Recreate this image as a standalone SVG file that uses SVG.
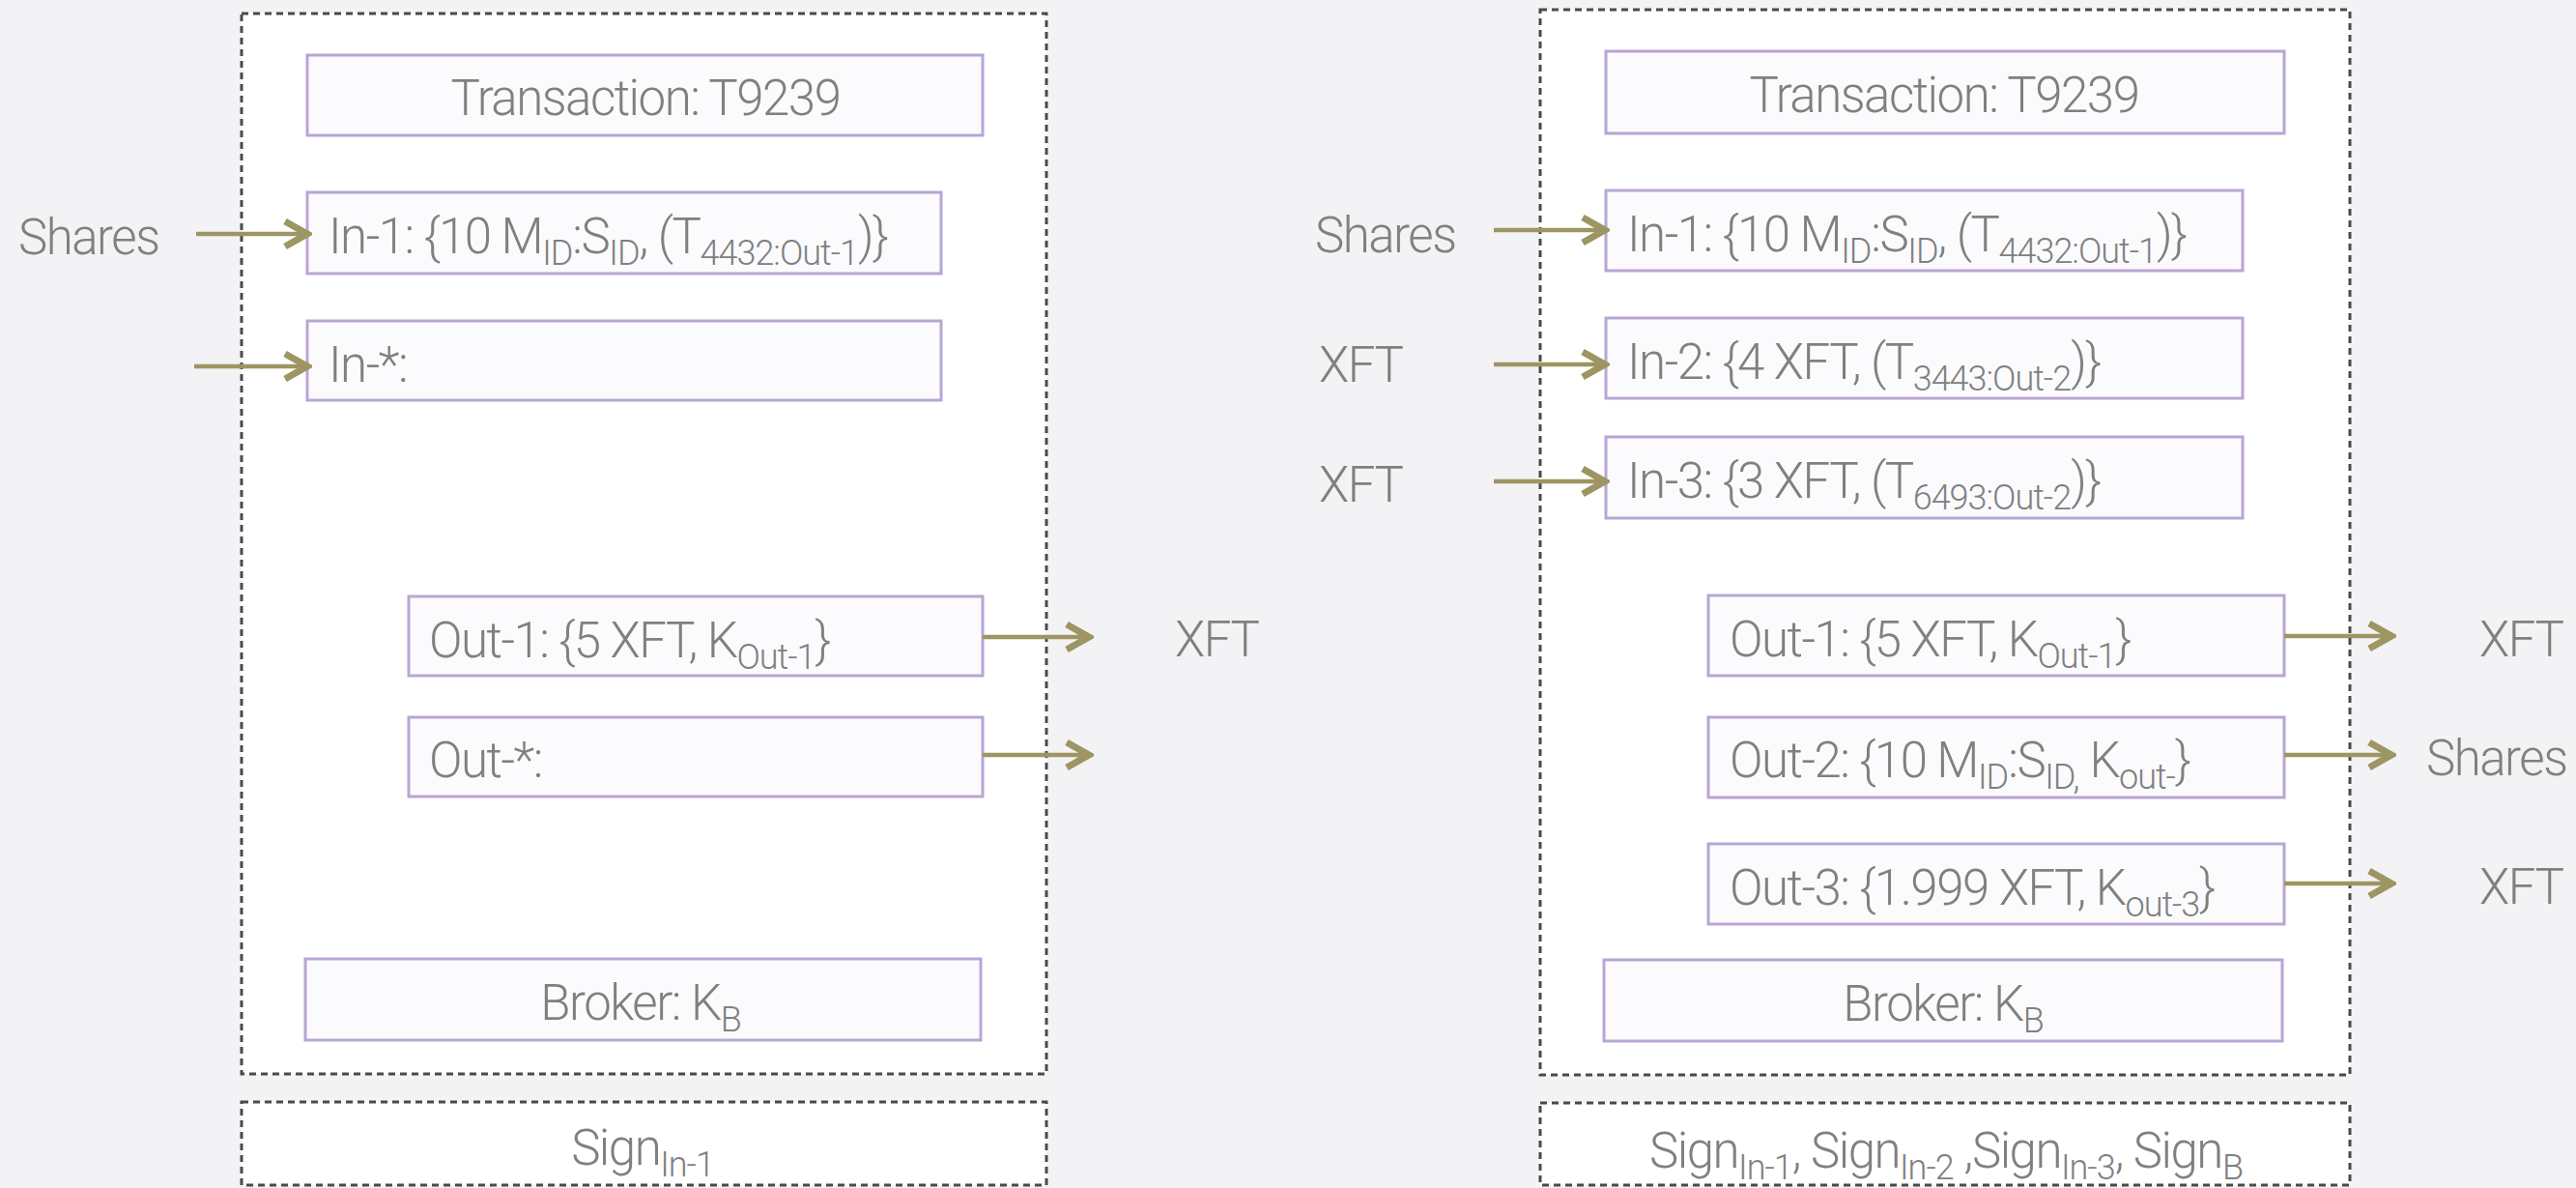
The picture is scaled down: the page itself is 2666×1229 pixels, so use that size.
<svg xmlns="http://www.w3.org/2000/svg" width="2666" height="1229" viewBox="0 0 2666 1229">
<style>
.bg{fill:#f3f2f5}
.outer{fill:#ffffff;stroke:#4a4a4a;stroke-width:3;stroke-dasharray:7 5}
.box{fill:#fbfbfd;stroke:#b8a5d6;stroke-width:3}
.t{font-family:Roboto,"Liberation Sans",sans-serif;font-weight:300;font-size:51px;fill:#808080;letter-spacing:-1.5px}
.c{text-anchor:middle}
.s{font-size:36px;letter-spacing:-1px}
.arr{stroke:#9d9562;stroke-width:4.5;fill:none;marker-end:url(#ah)}
</style>
<defs>
<marker id="ah" markerUnits="userSpaceOnUse" viewBox="0 0 34 34" markerWidth="34" markerHeight="34" refX="29" refY="17" orient="auto">
<path d="M6,4 L29,17 L6,30" fill="none" stroke="#9d9562" stroke-width="7" stroke-linejoin="miter"/>
</marker>
</defs>
<rect class="bg" x="0" y="0" width="2666" height="1229"/>

<g id="left-panel">
<rect class="outer" x="250" y="14" width="833" height="1097"/>
</g>
<g id="left-sign">
<rect class="outer" x="250" y="1140" width="833" height="86"/>
<text class="t c" x="665" y="1205">Sign<tspan class="s" dy="12">In-1</tspan></text>
</g>
<g id="left-transaction">
<rect class="box" x="318" y="57" width="699" height="83"/>
<text class="t c" x="668" y="119">Transaction: T9239</text>
</g>
<g id="left-in1">
<rect class="box" x="318" y="199" width="656" height="84"/>
<text class="t" x="340" y="262">In-1: {10 M<tspan class="s" dy="12">ID</tspan><tspan dy="-12">:S</tspan><tspan class="s" dy="12">ID</tspan><tspan dy="-12">, (T</tspan><tspan class="s" dy="12">4432:Out-1</tspan><tspan dy="-12">)}</tspan></text>
</g>
<g id="left-instar">
<rect class="box" x="318" y="332" width="656" height="82"/>
<text class="t" x="340" y="395">In-*:</text>
</g>
<g id="left-out1">
<rect class="box" x="423" y="617" width="594" height="82"/>
<text class="t" x="444" y="680">Out-1: {5 XFT, K<tspan class="s" dy="12">Out-1</tspan><tspan dy="-12">}</tspan></text>
</g>
<g id="left-outstar">
<rect class="box" x="423" y="742" width="594" height="82"/>
<text class="t" x="444" y="804">Out-*:</text>
</g>
<g id="left-broker">
<rect class="box" x="316" y="992" width="699" height="84"/>
<text class="t c" x="663" y="1055">Broker: K<tspan class="s" dy="12">B</tspan></text>
</g>
<g id="left-labels">
<text class="t" x="19" y="263">Shares</text>
<text class="t" x="1216" y="679">XFT</text>
</g>

<g id="right-panel">
<rect class="outer" x="1594" y="10" width="838" height="1102"/>
</g>
<g id="right-sign">
<rect class="outer" x="1594" y="1141" width="838" height="85"/>
<text class="t c" x="2014" y="1208">Sign<tspan class="s" dy="12">In-1</tspan><tspan dy="-12">, Sign</tspan><tspan class="s" dy="12">In-2</tspan><tspan dy="-12"> ,Sign</tspan><tspan class="s" dy="12">In-3</tspan><tspan dy="-12">, Sign</tspan><tspan class="s" dy="12">B</tspan></text>
</g>
<g id="right-transaction">
<rect class="box" x="1662" y="53" width="702" height="85"/>
<text class="t c" x="2012" y="116">Transaction: T9239</text>
</g>
<g id="right-in1">
<rect class="box" x="1662" y="197" width="659" height="83"/>
<text class="t" x="1684" y="260">In-1: {10 M<tspan class="s" dy="12">ID</tspan><tspan dy="-12">:S</tspan><tspan class="s" dy="12">ID</tspan><tspan dy="-12">, (T</tspan><tspan class="s" dy="12">4432:Out-1</tspan><tspan dy="-12">)}</tspan></text>
</g>
<g id="right-in2">
<rect class="box" x="1662" y="329" width="659" height="83"/>
<text class="t" x="1684" y="392">In-2: {4 XFT, (T<tspan class="s" dy="12">3443:Out-2</tspan><tspan dy="-12">)}</tspan></text>
</g>
<g id="right-in3">
<rect class="box" x="1662" y="452" width="659" height="84"/>
<text class="t" x="1684" y="515">In-3: {3 XFT, (T<tspan class="s" dy="12">6493:Out-2</tspan><tspan dy="-12">)}</tspan></text>
</g>
<g id="right-out1">
<rect class="box" x="1768" y="616" width="596" height="83"/>
<text class="t" x="1790" y="679">Out-1: {5 XFT, K<tspan class="s" dy="12">Out-1</tspan><tspan dy="-12">}</tspan></text>
</g>
<g id="right-out2">
<rect class="box" x="1768" y="742" width="596" height="83"/>
<text class="t" x="1790" y="804">Out-2: {10 M<tspan class="s" dy="12">ID</tspan><tspan dy="-12">:S</tspan><tspan class="s" dy="12">ID,</tspan><tspan dy="-12"> K</tspan><tspan class="s" dy="12">out-</tspan><tspan dy="-12">}</tspan></text>
</g>
<g id="right-out3">
<rect class="box" x="1768" y="873" width="596" height="83"/>
<text class="t" x="1790" y="936">Out-3: {1.999 XFT, K<tspan class="s" dy="12">out-3</tspan><tspan dy="-12">}</tspan></text>
</g>
<g id="right-broker">
<rect class="box" x="1660" y="993" width="702" height="84"/>
<text class="t c" x="2011" y="1056">Broker: K<tspan class="s" dy="12">B</tspan></text>
</g>
<g id="right-labels">
<text class="t" x="1361" y="261">Shares</text>
<text class="t" x="1365" y="395">XFT</text>
<text class="t" x="1365" y="519">XFT</text>
<text class="t" x="2566" y="679">XFT</text>
<text class="t" x="2511" y="802">Shares</text>
<text class="t" x="2566" y="935">XFT</text>
</g>

<g id="connectors">
<line class="arr" x1="203" y1="242" x2="318" y2="242"/>
<line class="arr" x1="201" y1="379" x2="318" y2="379"/>
<line class="arr" x1="1017" y1="659" x2="1127" y2="659"/>
<line class="arr" x1="1017" y1="781" x2="1127" y2="781"/>
<line class="arr" x1="1546" y1="238" x2="1661" y2="238"/>
<line class="arr" x1="1546" y1="377" x2="1661" y2="377"/>
<line class="arr" x1="1546" y1="498" x2="1661" y2="498"/>
<line class="arr" x1="2364" y1="658" x2="2475" y2="658"/>
<line class="arr" x1="2364" y1="781" x2="2475" y2="781"/>
<line class="arr" x1="2364" y1="914" x2="2475" y2="914"/>
</g>
</svg>
